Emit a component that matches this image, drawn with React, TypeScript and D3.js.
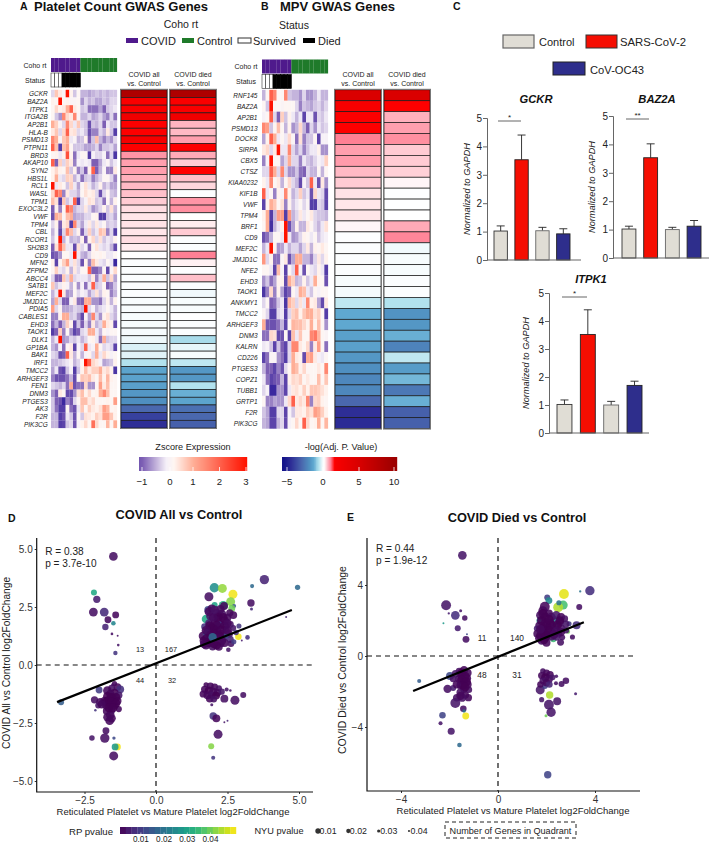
import { useEffect, useRef } from 'react';
import * as d3 from 'd3';

type Pt = [number, number, number, number]; // x, y, RP pvalue, NYU pvalue

const plateletGenes = ['GCKR','BAZ2A','ITPK1','ITGA2B','AP2B1','HLA-B','PSMD13','PTPN11','BRD3','AKAP10','SYN2','HBS1L','RCL1','WASL','TPM1','EXOC3L2','VWF','TPM4','CBL','RCOR1','SH2B3','CD9','MFN2','ZFPM2','ABCC4','SATB1','MEF2C','JMJD1C','PDIA5','CABLES1','EHD3','TAOK1','DLK1','GP1BA','BAK1','IRF1','TMCC2','ARHGEF3','FEN1','DNM3','PTGES3','AK3','F2R','PIK3CG'];
const mpvGenes = ['RNF145','BAZ2A','AP2B1','PSMD13','DOCK8','SIRPA','CBX5','CTSZ','KIAA0232','KIF1B','VWF','TPM4','BRF1','CD9','MEF2C','JMJD1C','NFE2','EHD3','TAOK1','ANKMY1','TMCC2','ARHGEF3','DNM3','KALRN','CD226','PTGES3','COPZ1','TUBB1','GRTP1','F2R','PIK3CG'];

const plateletExpr = [
  [-.3,.7,.3,0,3,.2,-.4,.1,-.5,-.5,-.6,-.5,-.4,-.5,-.4,-.5,-.4,-.4],
  [.2,.1,3,.1,.2,0,0,.1,-.7,-.3,-.5,-.4,-.6,-.6,-.4,-.5,-.3,-.3],
  [.1,.5,.2,.3,1,2,.3,.1,-.4,-.3,-.9,-.9,-.9,-.6,-1,-.4,-.3,-.2],
  [.1,-.4,-.7,1.5,.5,.3,1.5,0,-.5,-.5,-.3,-.6,-.5,-.3,-.6,-.8,-.3,-.9],
  [1,.6,0,-.3,1.5,.5,-.2,.7,-.3,-.4,-1.2,-.4,-.5,-.3,-1,-.2,-.4,-.4],
  [.3,.7,-.3,.5,2,.3,.4,-.3,-.2,-.4,-1.2,-.8,-.8,-.3,-.5,.3,-.4,-1.5],
  [1.5,1,0,.7,1,-.2,0,-.5,-.4,.2,-1,-.4,.8,-.5,-.8,-.5,-.7,-.3],
  [2,.8,-1.5,.8,1.2,.1,-.4,-.4,-.4,-.6,-.6,-.5,-.3,-.8,-.4,-.4,-.3,-.6],
  [.1,.2,-.2,.2,2.2,.2,-.9,-.2,.1,.1,-1.5,-.1,-.3,-.3,-.1,-.9,-.3,-1.6],
  [2,-1,.6,-.3,.6,.3,-.8,-.1,-.2,-.1,-.2,-1,-1,-.6,-.2,0,-.4,-.2],
  [.2,.5,.2,.1,.8,-.4,.2,-.8,-.4,-1,.2,2,-1,-.5,0,-.8,-.8,.3],
  [.2,1,-.2,-.3,.6,.5,-.5,-.2,-.9,-.4,-.3,-.8,-.5,-.3,.1,.1,-.3,-.8],
  [3,-.2,.3,.1,-.4,.6,-.2,-.6,0,.4,-.2,-.5,-.3,.2,-.5,-.3,-.6,-.6],
  [.5,2,1.5,-.8,.3,-.3,-.3,-.5,.1,.4,.2,.3,-.3,-1.2,-.3,.1,-.4,-.5],
  [.8,.4,-1.5,.7,-.4,-.2,2,-1.5,-.3,-.1,.4,.3,-.4,-.3,-.9,.1,-.5,.2],
  [-1,.2,-.8,.1,2,1.5,-.5,-.3,-.3,.3,-.3,-.7,-.5,-.3,.2,-.4,.4,-.5],
  [-1.2,1,.8,0,.8,1,-.6,-.5,-.5,-.3,-.3,.1,.2,-1.5,-1.5,-.4,-.3,-.6],
  [-.3,.2,-1,.3,.5,-1.5,1.5,-.3,-.6,-.2,.3,-.3,.3,-.2,.1,-.4,-.3,-.4],
  [-.5,0,-1.3,-.3,1.5,.8,-.3,.2,-1,-.3,.6,-.4,-.2,.8,.6,-.8,-.3,-1.5],
  [-.4,.1,3,-.5,-.1,-.5,-.4,-.5,.2,-1,.2,.5,-.3,.4,-.4,-.2,-.3,.2],
  [-1,.4,2,.8,-.2,-.2,-1.3,.4,-.3,-.1,-1,.1,.4,-.2,-.3,-.2,-.5,-1.3],
  [-1.2,-1,-.7,.1,.1,-.2,3,-.2,-.5,-.6,-.3,.2,.1,.2,.1,-.2,-.2,.1],
  [.2,-1.4,.1,.6,1.2,-.2,.4,-.3,-1.2,.2,-.8,.8,.3,-.2,-.3,.1,-.2,-1.8],
  [.1,.6,-.2,-.3,.2,-.5,.3,-.3,.1,.1,2,-1,-1,-.8,.1,-1.3,0,.5],
  [-.3,-1,-1,.7,-.3,1,-.3,-.2,-.2,-.2,-.4,.3,-.8,-.3,1,-.4,.5,-.6],
  [.7,-.4,-.2,.2,-.1,-.5,.1,-.7,-.1,-.9,-.2,2,-.4,-.3,.1,-1,-.8,-.4],
  [-.5,-.2,3,.3,-.7,-.6,.1,-.3,-.1,-.2,-.6,-.3,.4,-.4,.2,.1,-.8,-.5],
  [-.6,1,-.3,-1,-1,-.1,.3,-.9,-1,1,1,-.7,-.7,-.9,-.3,.2,-.5,.2],
  [1.2,-.3,.1,-.6,-.6,-.5,-.3,-.4,-.5,3,-.3,-.1,-.5,-.3,-.2,.1,-.2,-.5],
  [-.8,-.8,.2,1,1,-.4,-.3,-.7,-1.3,0,-.6,1.5,-.3,-.7,.2,.4,-.3,-.5],
  [-.9,-.5,-1,-.5,.6,.2,-1.3,-.4,-1,-.3,-.8,.3,-.5,-.3,1,.3,.2,-1.3],
  [-1.5,-1,.6,-.8,.1,-.7,-1.4,-1,-.3,-.2,1,1,-.2,-.5,.1,-.1,.1,.1],
  [-.5,-.2,3,-.7,-.6,-.3,-.4,-.2,-.5,-.3,.1,.2,-.2,-.9,1,-.4,-.3,-.3],
  [-.5,-.7,-.1,-.9,.1,.3,-1.4,-.1,-.3,2,-.2,-.1,1,.1,-.3,-.2,-.3,-1.4],
  [-.3,-.4,-1.2,-1,2,.3,-.5,.1,-.5,-.1,.2,-.3,1,-.2,.5,.2,-.1,.1],
  [-.5,-.5,-.4,-.3,-.2,0,-.5,-.3,.1,3,2,.5,.3,-.1,-.6,-.5,-.4,.2],
  [-.6,-.2,-1.2,-1.4,-.4,-.1,-1.5,-.4,.2,.8,.3,.6,.6,1,.3,.5,.2,-1.6],
  [-.8,-1.2,-1.2,-1.2,-.9,-.5,-1.3,.1,.7,.6,.8,.3,.1,.8,.2,.9,.2,.1],
  [-.3,-.4,-.5,-.3,-.9,1,-1.2,-.9,-.9,.5,-.7,-.7,.1,1.2,.3,.8,.1,.1],
  [-.7,-1,.3,.1,-1.3,-1.3,-.7,.4,.8,.2,.5,.1,.2,1,1.5,.8,.1,.1],
  [-.4,-1,-1.2,-1.8,-.8,-1.1,-.3,.1,.8,.8,.3,.5,.1,.1,.1,.2,.1,1.2],
  [-.4,-.9,-1.5,-1.5,.1,-.9,-1.2,-.2,.7,.1,.6,.3,.2,.4,1.2,.9,.1,.2],
  [-.5,-.5,-1.5,-1.2,-.2,-.4,-1.2,.1,-.4,.4,.3,.2,.6,.4,1.2,1.2,.7,.2],
  [-.5,-.5,-1.5,-1.4,-.4,-.3,-1.2,-.1,.2,.5,.1,1.8,.5,.1,.1,.9,.1,1],
];

const mpvExpr = [
  [-.5,.1,2,1.5,.1,.1,1.5,-.4,-.5,-.5,-.7,-.3,-.7,-.7,-.5,-.2,-.5,-.5],
  [.1,-.4,3,.1,.1,0,.1,.1,.1,-.3,-.8,-.4,-.5,-.6,-.4,-.3,-.5,-.3],
  [-.1,.1,2,-.3,-1,.6,-.4,.2,-.2,-.5,-.2,-1.4,-.2,-.2,-1.2,-.3,-.4,-.2],
  [1.5,1.2,-.4,.1,.8,.1,-.5,.2,-.7,-.5,.5,-.5,-1,-.3,-.7,-.2,-.4,-.3],
  [-.6,.2,2,1,-.2,.1,-.2,.5,0,-.9,.4,-.8,-.4,-.4,.1,-1.4,-.1,-.1],
  [.3,.5,-.3,.3,3,-.2,-.2,1.5,-.3,-.6,-.3,-.8,-.4,-.2,-.2,.2,-.7,-.7],
  [-.8,-.1,3,.1,.1,-.6,-.3,1,-.3,-.3,-.8,-.2,-.4,-.5,-.3,-.1,-.2,.6],
  [-.3,-.3,2,1,-.3,1.5,-.3,-.7,-.7,-.4,-.9,-1,-.3,-.5,-.5,.1,-.5,.1],
  [.2,-.2,1.5,.1,.3,-.5,.1,.5,-.3,-.5,-1.3,-.1,-.4,2,-.2,-1.2,.3,-.7],
  [2,-.2,.1,-.8,.2,-.1,1.5,.2,-.5,-.3,.6,-.4,-.2,-1.2,.5,-.2,-.3,-1.3],
  [-1.4,.2,1,.7,.1,.4,-.8,.2,-.4,-.2,.1,-.3,0,-1.5,-1.5,-.3,-.4,-1.4],
  [.2,1,-1.5,-.5,1.2,1.2,-1.5,1.3,-.5,-.3,.3,-.2,.1,.3,-.3,-.4,-.4,-.5],
  [.1,1,-1.7,-.5,-.2,.2,3,-1.2,-.6,.2,-.5,-.5,.3,.1,-.3,-.5,-.2,.4],
  [-1.2,-.9,-.5,.1,.1,-.2,3,-.2,-.7,-.6,-.3,.2,.1,-.2,.1,-.4,-.2,-.1],
  [-.5,-.2,3,.2,-.7,-.6,-.2,-.5,-.3,-.3,-.6,-.3,.3,-.5,.2,.1,.3,.1],
  [1.3,-.3,.2,-.9,-.9,0,.3,-1.2,-.6,1,1,-.5,-.5,-.8,-.3,.3,-.3,.2],
  [.1,.1,-.2,-1.4,.8,-.1,-1.4,.1,-.3,2,-.1,-1.2,.1,-.2,-.3,.2,-.2,-1.5],
  [-.7,-.4,-.9,-.6,.2,.2,-1.3,1,.6,-.5,-.4,.2,-.4,-.2,1,.2,.1,-1.2],
  [-1.6,-.8,.5,-.8,.2,-.6,-1.4,-1,.1,-.2,1,.8,-.2,-.4,.1,-.1,.1,.1],
  [-.3,.1,-1,-.9,-.4,-.2,-1.6,.9,.6,-.3,.4,-.2,1.5,.2,.3,-.6,-1.3,.3],
  [0,-.3,-1.5,-1.5,-.3,-.2,-1.5,-.3,.6,.8,.2,.7,1,1,.4,.6,.1,-1.5],
  [1,-1.1,-1.2,-1.2,-.9,-.5,-1.4,.1,.9,.8,.8,.5,.2,1,.2,.8,.1,-.7],
  [-.9,-.9,.5,.4,-1.3,-1.2,.1,-1.4,.8,-.2,.7,.1,.1,1.5,1.7,.9,.1,0],
  [-.2,-.1,-.4,-1.4,-.4,-1,-1.4,-.3,1.5,1.5,.3,.1,.5,-.8,.3,1.2,.1,-.9],
  [-1.4,-.9,0,0,-.7,-.9,-1.5,-.3,1,.3,.2,-1.3,1,1.2,.3,-.1,-.2,.1],
  [-.5,-1,-1,-1.4,-.8,-1.2,-.3,.1,1,.8,.2,.5,.1,.1,.1,.3,.1,1.5],
  [-.2,-.9,-1.4,-1.2,-1,-.5,-1.4,.2,.5,.4,.6,.1,.3,.1,.1,.8,.1,.7],
  [-.3,-.1,-1.8,-1.8,-.7,-.7,-1.4,-.2,.3,.4,.2,.6,.2,.7,.7,.6,.4,.2],
  [.1,-.8,-.8,-.6,-.7,-.7,-.2,.5,2,.3,.5,.3,1.5,-.8,.5,.6,.2,.1],
  [-.4,-.6,-1.5,-1.5,-.3,-.3,-1.4,-.1,-.4,.3,.3,.2,.6,.4,1.2,1,.6,.2],
  [-.5,-.6,-1.4,-1.4,-.5,-.3,-1.3,-.1,.1,.5,.1,2,.5,.1,.2,1,.1,.9],
];

const plateletAll = [8.5,1.5,1.5,2.5,1.2,1.2,2,1.2,.55,.5,.5,.42,.38,.35,.3,.22,.18,.2,.18,.22,.15,.05,0,0,0,0,0,-.03,-.03,-.04,-.05,-.06,-.15,-.3,-.25,-.6,-1.5,-1.55,-1.6,-1.8,-2,-3,-4,-4.5];
const plateletDied = [8.5,1.5,1.5,2.5,.4,.38,.5,1.3,.45,.3,1,.35,.25,0,.55,.58,.05,.15,.3,0,0,.65,.12,.03,.35,0,-.12,-.04,-.03,.05,0,0,-.7,-.2,-.05,-.5,-1.8,-1.8,-.6,-1.3,-1.5,-2.8,-3,-3.2];
const mpvAll = [4.8,1.8,1.3,1.2,.65,.5,.52,.38,.3,.2,.18,.18,.1,.03,0,0,0,-.05,-.08,-.5,-1.4,-1.4,-1.6,-1.6,-1.8,-2,-2.2,-2.2,-3,-4.5,-4.6];
const mpvDied = [4.8,1.2,.42,.5,.58,.3,.3,.28,.1,.03,.04,.05,.45,.62,-.12,-.04,-.04,0,0,-.6,-1.9,-1.8,-1.3,-2.3,-.5,-1.7,-1.2,-2.6,-1.3,-3.2,-3.2];

const barGroups = ['Control', 'SARS-CoV-2', 'Control2', 'CoV-OC43'];
const gckrMeans = [1.02, 3.53, 1.03, .92];
const gckrTops = [1.2, 4.4, 1.15, 1.1];
const baz2aMeans = [1.02, 3.53, 1, 1.12];
const baz2aTops = [1.12, 4.02, 1.08, 1.32];
const itpk1Means = [1.02, 3.52, 1, 1.7];
const itpk1Tops = [1.18, 4.4, 1.13, 1.85];

const covidAllPoints: Pt[] = [
  // upper left
  [-1.49,4.68,.003,.01],[-2.17,3.13,.031,.025],[-2.07,2.83,.005,.018],[-2.19,2.28,.003,.009],[-1.81,2.28,.007,.009],[-1.41,2.16,.002,.02],[-1.68,1.95,.002,.02],[-1.49,1.8,.024,.033],[-1.77,1.64,.006,.023],[-1.54,1.34,.003,.044],[-1.34,1.26,.003,.048],[-1.32,.86,.004,.044],[-1.42,.52,.009,.034],
  // upper right, loose points
  [3.79,3.68,.006,.006],[4.95,3.35,.018,.029],[3.36,3.4,.018,.036],[2.04,3.33,.026,.006],[2.32,3.3,.043,.008],[2.69,3.05,.05,.008],[1.85,2.94,.003,.008],[3.32,2.67,.003,.017],[3.34,2.41,.007,.042],[4.55,2.07,.006,.048],[2.61,2.73,.042,.008],[2.35,2.57,.032,.008],[2.05,2.59,.03,.025],[2.73,2.54,.014,.036],[2.65,2.44,.04,.02],[1.83,2.37,.012,.013],[2.88,1.22,.05,.022],[3.2,1.19,.008,.033],[3,1.06,.005,.048],[2.9,1.68,.009,.03],[2.53,.66,.004,.033],[1.75,1.98,.031,.01],
  // upper right, cluster
  [2.38,2.54,.002,.014],[1.95,2.44,.002,.014],[2.7,2.15,.002,.014],[2.1,2.25,.002,.012],[2.3,2.2,.003,.009],[2.5,2.05,.002,.015],[1.9,2.1,.004,.012],[2.15,2,.001,.012],[2.4,1.9,.002,.01],[1.85,1.8,.005,.016],[2.05,1.8,.002,.01],[2.25,1.75,.001,.012],[2.6,1.75,.003,.02],[2.7,1.6,.004,.025],[1.7,1.65,.008,.02],[1.95,1.6,.001,.01],[2.15,1.55,.003,.012],[2.45,1.55,.002,.018],[1.8,1.45,.003,.014],[2.05,1.4,.001,.01],[2.3,1.35,.002,.012],[2.55,1.35,.003,.014],[2.8,1.4,.008,.028],[1.65,1.25,.002,.008],[1.85,1.2,.001,.006],[2.1,1.2,.002,.01],[2.35,1.15,.004,.012],[2.6,1.1,.006,.02],[1.68,1.05,.001,.008],[1.9,1,.002,.008],[2.15,1,.003,.012],[2.4,.95,.002,.014],[2.62,.92,.003,.022],[1.75,.85,.002,.01],[1.98,.8,.003,.012],[2.2,.78,.002,.016],[1.8,1.35,.014,.01],[2,1.05,.016,.014],[2.2,1.7,.008,.01],[1.95,.92,.006,.02],[2.45,1.25,.012,.03],[2.3,.88,.002,.03],[2.72,1,.01,.03],
  [1.78,1.15,.001,.007],[1.92,1.3,.001,.006],[2.02,1.55,.001,.007],[2.12,1.72,.001,.008],[1.88,1.7,.001,.009],[2.28,1.5,.001,.007],[2.4,1.7,.001,.01],[2.22,1.25,.001,.008],[2.02,.92,.001,.008],[1.82,.95,.001,.009],[2.3,1.05,.002,.01],[2.5,1.5,.002,.012],[1.75,1.5,.002,.01],[2.18,2.1,.001,.008],[2.35,2.05,.001,.009],[2,2.05,.002,.01],[1.85,2.3,.002,.01],[2.25,2.4,.002,.011],[2.05,2.38,.003,.012],[1.98,1.2,.018,.012],[2.12,.85,.001,.012],[1.68,.9,.002,.012],[2.5,1.8,.002,.012],[2.58,2.25,.002,.018],
  // lower left
  [-3.32,-1.61,.016,.025],[-1.99,-1.08,.01,.02],[-1.52,-.85,.004,.042],[-1.45,-.8,.002,.03],[-1.35,-.95,.002,.015],[-1.25,-1.05,.008,.015],[-1.55,-1,.003,.02],[-1.7,-1.1,.002,.01],[-1.45,-1.2,.001,.012],[-1.6,-1.25,.002,.012],[-1.3,-1.3,.004,.018],[-2.15,-1.5,.003,.018],[-1.95,-1.6,.002,.012],[-1.8,-1.55,.002,.012],[-1.65,-1.5,.001,.012],[-1.5,-1.55,.002,.01],[-1.35,-1.55,.002,.012],[-2.02,-1.75,.004,.025],[-1.75,-1.75,.002,.016],[-1.6,-1.7,.002,.012],[-1.45,-1.75,.001,.012],[-2.12,-1.95,.009,.045],[-1.3,-1.9,.002,.024],[-1.55,-1.95,.004,.018],[-1.72,-1.98,.002,.014],[-1.6,-2.15,.002,.01],[-1.62,-2.4,.002,.01],[-1.75,-2.83,.003,.02],[-2.24,-3.15,.004,.028],[-1.79,-3.15,.003,.006],[-1.47,-3.15,.012,.04],[-1.35,-3.53,.05,.02],[-1.43,-3.53,.028,.02],[-1.48,-3.92,.003,.008],
  [-1.7,-1.35,.001,.01],[-1.55,-1.4,.001,.008],[-1.4,-1.4,.001,.009],[-1.75,-1.6,.001,.009],[-1.55,-1.6,.001,.008],[-1.4,-1.65,.001,.009],[-1.9,-1.7,.002,.012],[-1.65,-1.85,.001,.01],[-1.5,-1.85,.001,.01],[-1.7,-2.25,.002,.012],[-1.55,-2.3,.002,.012],
  // lower right
  [3.05,-1.29,.003,.025],[2.76,-1.52,.003,.008],[2.39,-1.45,.003,.014],[2.47,-1.06,.004,.036],[2.6,-1.1,.004,.045],[1.95,-1.71,.004,.042],[2,-2.2,.009,.017],[2.11,-2.3,.002,.014],[2.39,-2.47,.004,.048],[2.5,-2.4,.006,.048],[2.17,-2.99,.003,.008],[1.93,-3.5,.042,.025],[2,-4,.009,.036],
  [1.75,-.85,.002,.03],[1.9,-.9,.002,.02],[2.05,-.95,.002,.02],[2.2,-1,.003,.025],[1.7,-1.05,.002,.018],[1.85,-1.1,.001,.012],[2,-1.15,.002,.014],[2.15,-1.2,.002,.016],[2.3,-1.15,.004,.024],[1.65,-1.25,.002,.018],[1.8,-1.3,.002,.014],[1.95,-1.3,.003,.018],[2.1,-1.32,.001,.014],[1.88,-1.45,.002,.016],[2.02,-1.48,.003,.022],
];

const covidDiedPoints: Pt[] = [
  // upper left
  [-1.47,5.67,.004,.01],[-2.14,2.86,.004,.003],[-1.76,2.29,.008,.01],[-1.54,2.55,.004,.042],[-2.03,2.4,.005,.046],[-1.37,2.14,.003,.028],[-2.25,1.84,.028,.048],[-1.66,1.56,.005,.025],[-1.32,.94,.003,.02],[-1.28,1.22,.012,.048],
  // upper right, loose
  [3.79,3.68,.008,.006],[3.39,3.64,.02,.046],[2.72,3.49,.049,.003],[2.03,3.3,.01,.025],[2.1,3.12,.025,.02],[3.35,2.76,.003,.025],[2.69,2.87,.036,.008],[2.48,2.74,.045,.003],[2.51,3,.02,.03],[1.93,2.78,.002,.003],[1.77,1.99,.025,.008],[2.37,1.99,.022,.008],[3.24,1.73,.008,.014],[2.93,1.82,.01,.03],[2.89,1.37,.04,.036],[3.07,1.07,.003,.03],[2.28,.94,.035,.025],[2,.75,.002,.014],[2.58,.77,.003,.02],
  // upper right, cluster
  [1.85,2.55,.002,.008],[2.1,2.4,.002,.014],[1.75,2.3,.003,.01],[1.95,2.2,.001,.008],[2.2,2.2,.002,.01],[2.4,2.3,.004,.012],[2.6,2.2,.002,.014],[2.75,2.1,.003,.02],[1.7,1.7,.002,.014],[1.95,1.9,.002,.01],[2.15,1.85,.002,.012],[2.55,1.9,.003,.012],[2.8,1.8,.004,.018],[1.6,1.55,.005,.025],[1.85,1.55,.001,.006],[2.1,1.6,.002,.008],[2.35,1.6,.007,.01],[2.6,1.55,.003,.014],[2.8,1.45,.004,.022],[1.62,1.25,.002,.014],[1.85,1.25,.002,.01],[2.05,1.3,.016,.025],[2.25,1.3,.002,.012],[2.5,1.25,.005,.016],[1.7,1,.002,.012],[1.95,1.05,.001,.008],[2.2,1.1,.003,.012],[2.42,1.05,.004,.02],[1.8,.85,.003,.016],[2.65,1.05,.003,.026],
  [1.8,2,.001,.007],[2,1.7,.001,.006],[2.2,1.75,.001,.006],[2.45,1.75,.001,.008],[2.1,2.05,.001,.007],[1.9,1.4,.001,.007],[2.15,1.4,.001,.007],[2.4,1.4,.002,.009],[2,1.15,.001,.008],[1.75,1.15,.001,.009],[2.3,1.2,.002,.01],[1.75,1.5,.002,.01],[1.85,2.4,.001,.008],[1.9,.9,.001,.012],[2.55,2,.001,.01],[2.6,1.35,.002,.012],
  // lower left
  [-3.25,-1.41,.016,.036],[-1.98,-1.13,.012,.014],[-1.6,-.85,.003,.02],[-1.4,-.8,.002,.012],[-1.25,-.95,.002,.014],[-1.75,-1,.004,.016],[-1.5,-1.1,.001,.012],[-1.28,-1.25,.002,.012],[-1.6,-1.3,.002,.014],[-1.85,-1.3,.003,.022],[-1.4,-1.45,.001,.012],[-1.25,-1.6,.002,.014],[-1.55,-1.65,.002,.014],[-2.08,-1.85,.003,.012],[-1.85,-1.8,.005,.025],[-1.4,-1.85,.002,.014],[-1.2,-1.9,.003,.022],[-1.55,-2.05,.003,.014],[-1.35,-2.2,.002,.016],[-1.22,-2.35,.002,.018],[-1.48,-2.35,.003,.012],[-1.7,-2.35,.003,.016],[-1.76,-2.65,.004,.003],[-1.43,-2.97,.003,.022],[-1.4,-3.1,.02,.04],[-1.33,-3.38,.05,.02],[-2.29,-3.34,.011,.022],[-2.37,-3.79,.004,.036],[-1.93,-4.24,.004,.019],[-1.59,-5.01,.018,.033],
  [-1.5,-.95,.001,.01],[-1.35,-1.15,.001,.008],[-1.5,-1.35,.001,.009],[-1.3,-1.45,.001,.008],[-1.45,-1.65,.001,.009],[-1.35,-1.75,.001,.01],[-1.7,-1.6,.002,.012],[-1.55,-2.25,.002,.012],
  // lower right
  [3.2,-2.12,.005,.042],[2.41,-1.14,.004,.04],[2.8,-1.39,.003,.022],[2.62,-1.58,.003,.025],[2.39,-1.54,.003,.036],[2.13,-2.2,.045,.017],[1.8,-2.46,.004,.03],[1.74,-1.91,.004,.008],[1.93,-1.69,.01,.025],[2.44,-2.55,.004,.014],[2.1,-2.74,.004,.003],[2.19,-3.17,.004,.006],[1.98,-3.36,.04,.042],[2.05,-6.69,.011,.017],
  [1.85,-.85,.003,.028],[2,-.95,.002,.02],[2.15,-1.05,.002,.018],[1.8,-1.1,.002,.018],[1.95,-1.2,.001,.012],[2.1,-1.3,.002,.014],[2.25,-1.2,.004,.026],[1.85,-1.4,.003,.02],[2,-1.5,.002,.018],[1.75,-1.6,.002,.022],[2.12,-1.6,.006,.022],
];

const rpTicks = [.01, .02, .03, .04];
const nyuTicks = [.01, .02, .03, .04];

const font = '"Liberation Sans", Arial, sans-serif';

export default function App() {
  const ref = useRef<SVGSVGElement | null>(null);

  useEffect(() => {
    const svg = d3.select(ref.current);
    svg.selectAll('*').remove();

    const exprColor = d3.scaleLinear<string>()
      .domain([-2, -1, -.15, .15, 1, 3])
      .range(['#2a1a9a', '#7d5fb4', '#f5f0f8', '#fff6f2', '#ffae96', '#ff1200'])
      .clamp(true);
    const pColor = d3.scaleLinear<string>()
      .domain([-5.5, -4.5, -3, -2, -1.4, -.6, -.15, .05, .2, .4, .65, 1, 5, 10])
      .range(['#14148a', '#2e2e96', '#4a68ae', '#4f8fc0', '#5fa8d0', '#b2e2ee', '#eef8fb', '#ffffff', '#ffe2e6', '#ffb4c0', '#ff8094', '#ff0000', '#d80000', '#9c0000'])
      .clamp(true);

    const text = (x: number, y: number, s: string, size: number, opts: any = {}) => {
      const t = svg.append('text')
        .attr('x', x).attr('y', y).text(s)
        .attr('font-size', size)
        .attr('font-family', font)
        .attr('fill', opts.fill ?? '#222')
        .attr('dominant-baseline', 'central')
        .attr('text-anchor', opts.anchor ?? 'start');
      if (opts.bold) t.attr('font-weight', 700).attr('fill', '#111');
      if (opts.italic) t.attr('font-style', 'italic');
      if (opts.rotate) t.attr('transform', `rotate(-90 ${x} ${y})`);
      return t;
    };

    // panel letters and titles
    text(20, 6, 'A', 10.5, { bold: true });
    text(34, 6, 'Platelet Count GWAS Genes', 13, { bold: true });
    text(261, 6, 'B', 10.5, { bold: true });
    text(280, 6, 'MPV GWAS Genes', 13, { bold: true });
    text(453, 6, 'C', 10.5, { bold: true });
    text(8, 518, 'D', 10.5, { bold: true });
    text(347, 517, 'E', 10.5, { bold: true });

    // top legend
    text(181, 24, 'Coho rt', 10.5, { anchor: 'middle' });
    text(294, 25, 'Status', 10.5, { anchor: 'middle' });
    const swatch = (x: number, y: number, w: number, h: number, fill: string, stroke = 'none') =>
      svg.append('rect').attr('x', x).attr('y', y).attr('width', w).attr('height', h).attr('fill', fill).attr('stroke', stroke);
    swatch(126, 38, 12, 5, '#4f1a8c');
    text(141, 41, 'COVID', 11);
    swatch(182, 38, 12, 5, '#1f7a2a');
    text(197, 41, 'Control', 11);
    swatch(238, 38, 13, 5, '#fff', '#333');
    text(253, 41, 'Survived', 11);
    swatch(303, 38, 12, 5, '#000');
    text(318, 41, 'Died', 11);

    const drawHeat = (genes: string[], expr: number[][], all: number[], died: number[], o: any) => {
      const y = d3.scaleBand<string>().domain(genes).range([o.top, o.bottom]);
      const x = d3.scaleBand<number>().domain(d3.range(18)).range([o.hx, o.hx + 66]);

      genes.forEach((g, i) => {
        svg.append('g').selectAll('rect').data(expr[i]).join('rect')
          .attr('x', (_, c) => x(c) ?? 0)
          .attr('y', y(g) ?? 0)
          .attr('width', x.bandwidth() + .1)
          .attr('height', y.bandwidth() + .1)
          .attr('fill', (d) => exprColor(d));
        text(o.hx - o.labelGap, (y(g) ?? 0) + y.bandwidth() / 2, g, 6.5, { anchor: 'end', italic: true, fill: '#222' });
      });

      // cohort + status annotation bars
      svg.append('g').selectAll('rect').data(d3.range(18)).join('rect')
        .attr('x', (c) => x(c) ?? 0).attr('y', o.cohortY)
        .attr('width', x.bandwidth() + .1).attr('height', 14)
        .attr('fill', (c) => (c < 8 ? '#4f1a8c' : '#1f7a2a'));
      svg.append('g').selectAll('rect').data(d3.range(8)).join('rect')
        .attr('x', (c) => x(c) ?? 0).attr('y', o.cohortY + 15)
        .attr('width', x.bandwidth()).attr('height', 14)
        .attr('fill', (c) => (c < 3 ? '#fff' : '#000'))
        .attr('stroke', (c) => (c < 3 ? '#333' : '#000'))
        .attr('stroke-width', .6);
      text(o.hx - 16, o.cohortY + 7, 'Coho rt', 7, { anchor: 'middle' });
      text(o.hx - 16, o.cohortY + 22, 'Status', 7, { anchor: 'middle' });

      [[all, o.c1], [died, o.c2]].forEach(([vals, cx]: any) => {
        svg.append('g').selectAll('rect').data(vals as number[]).join('rect')
          .attr('x', cx).attr('y', (_, i) => y(genes[i]) ?? 0)
          .attr('width', 46).attr('height', y.bandwidth())
          .attr('fill', (d) => pColor(d))
          .attr('stroke', '#1a1a1a').attr('stroke-width', .7);
        svg.append('rect').attr('x', cx - .5).attr('y', o.top - .5).attr('width', 47).attr('height', o.bottom - o.top + 1)
          .attr('fill', 'none').attr('stroke', '#777').attr('stroke-width', 1);
      });
      text(o.c1 + 23, o.headY, 'COVID all', 7, { anchor: 'middle' });
      text(o.c1 + 23, o.headY + 9, 'vs. Control', 7, { anchor: 'middle' });
      text(o.c2 + 23, o.headY, 'COVID died', 7, { anchor: 'middle' });
      text(o.c2 + 23, o.headY + 9, 'vs. Control', 7, { anchor: 'middle' });
    };

    drawHeat(plateletGenes, plateletExpr, plateletAll, plateletDied, { top: 89.8, bottom: 428, hx: 51, c1: 121, c2: 170, cohortY: 58, headY: 74, labelGap: 3.2 });
    drawHeat(mpvGenes, mpvExpr, mpvAll, mpvDied, { top: 89.8, bottom: 428.6, hx: 262, c1: 335, c2: 384, cohortY: 59.5, headY: 74.5, labelGap: 4.5 });

    // gradient legends under the heatmaps
    const gradientBar = (x0: number, x1: number, ticks: number[], tickScale: any, color: any, title: string, titleX: number, size: number) => {
      const steps = d3.range(x0, x1, 1);
      svg.append('g').selectAll('rect').data(steps).join('rect')
        .attr('x', (d) => d).attr('y', 457).attr('width', 1.2).attr('height', 14)
        .attr('fill', (d) => color(tickScale.invert(d)));
      ticks.forEach((t) => {
        svg.append('line').attr('x1', tickScale(t)).attr('x2', tickScale(t)).attr('y1', 467).attr('y2', 471).attr('stroke', '#fff').attr('stroke-width', .8);
        text(tickScale(t), 481, t < 0 ? `\u2212${-t}` : `${t}`, 9.6, { anchor: 'middle' });
      });
      text(titleX, 447, title, size, { anchor: 'middle' });
    };
    gradientBar(139, 247, [-1, 0, 1, 2, 3],
      d3.scaleLinear().domain([-1, 0, 1, 3]).range([142, 170, 193, 246]),
      exprColor, 'Zscore Expression', 193, 9.1);
    gradientBar(282, 397, [-5, 0, 5, 10],
      d3.scaleLinear().domain([-5, 0, 5, 10]).range([287, 323, 359, 394]),
      (v: number) => {
        // legend squeezes the pale band around zero, cells use the same ramp
        return pColor(v < -1 ? v : v < 0 ? v * .9 : v < 1.6 ? v * .65 : v);
      }, '-log(Adj. P. Value)', 341, 9.2);

    // panel C legend
    swatch(503, 35, 31, 13, '#e0ddd5', '#666').attr('stroke-width', 1.2);
    text(539, 42, 'Control', 11);
    swatch(586, 35, 31, 13, '#f50e02', '#333').attr('stroke-width', 1);
    text(620, 42, 'SARS-CoV-2', 11.3);
    swatch(553, 62, 32, 13, '#2e2e8c', '#222').attr('stroke-width', 1);
    text(590, 70, 'CoV-OC43', 11.2);

    const barFill = ['#e0ddd5', '#f50e02', '#e0ddd5', '#2e2e8c'];
    const barStroke = ['#333', '#222', '#666', '#222'];
    const drawBars = (name: string, means: number[], tops: number[], o: any) => {
      const y = d3.scaleLinear().domain([0, 5]).range([o.y0, o.y5]);
      const x = d3.scaleBand<string>().domain(barGroups).range([o.a, o.b]).paddingInner(.36);
      const g = svg.append('g');
      means.forEach((m, i) => {
        const cx = (x(barGroups[i]) ?? 0) + x.bandwidth() / 2;
        g.append('line').attr('x1', cx).attr('x2', cx).attr('y1', y(m)).attr('y2', y(tops[i])).attr('stroke', '#222').attr('stroke-width', .9);
        g.append('line').attr('x1', cx - 4).attr('x2', cx + 4).attr('y1', y(tops[i])).attr('y2', y(tops[i])).attr('stroke', '#222').attr('stroke-width', .9);
      });
      g.selectAll('rect').data(means).join('rect')
        .attr('x', (_, i) => x(barGroups[i]) ?? 0)
        .attr('y', (d) => y(d))
        .attr('width', x.bandwidth())
        .attr('height', (d) => o.y0 - y(d))
        .attr('fill', (_, i) => barFill[i])
        .attr('stroke', (_, i) => barStroke[i])
        .attr('stroke-width', .9);
      const axis = svg.append('g').attr('transform', `translate(${o.ax},0)`)
        .call(d3.axisLeft(y).tickValues([0, 1, 2, 3, 4, 5]).tickSize(4).tickPadding(1).tickFormat(d3.format('d')));
      axis.selectAll('.domain').attr('stroke', '#666').attr('stroke-width', 1);
      axis.selectAll('line').attr('stroke', '#666');
      axis.selectAll('text').attr('font-size', 10).attr('font-family', font).attr('fill', '#222');
      svg.append('line').attr('x1', o.ax).attr('x2', o.xEnd).attr('y1', o.y0).attr('y2', o.y0).attr('stroke', '#666').attr('stroke-width', 1);
      text(o.tx, o.ty, name, 11.2, { anchor: 'middle', bold: true, italic: true });
      text(o.lx, (o.y0 + o.y5) / 2, 'Normalized to GAPDH', 9.2, { anchor: 'middle', italic: true, rotate: true });
      svg.append('line').attr('x1', o.bx0).attr('x2', o.bx1).attr('y1', o.by).attr('y2', o.by).attr('stroke', '#555').attr('stroke-width', .9);
      text((o.bx0 + o.bx1) / 2, o.by - 3.5, o.star, 8, { anchor: 'middle' });
    };
    drawBars('GCKR', gckrMeans, gckrTops, { y0: 260, y5: 118, a: 494, b: 570, ax: 487, xEnd: 581, tx: 536, ty: 99, lx: 467, bx0: 498, bx1: 521, by: 121, star: '*' });
    drawBars('BAZ2A', baz2aMeans, baz2aTops, { y0: 258, y5: 116, a: 622, b: 701, ax: 613, xEnd: 709, tx: 657, ty: 99, lx: 592, bx0: 626, bx1: 649, by: 119, star: '**' });
    drawBars('ITPK1', itpk1Means, itpk1Tops, { y0: 433, y5: 293, a: 557, b: 642, ax: 549, xEnd: 649, tx: 591, ty: 279, lx: 526, bx0: 562, bx1: 587, by: 297, star: '*' });

    // scatter panels
    const rpColor = (p: number) => d3.interpolateViridis((p - .001) / .05);
    const nyuSize = d3.scaleLinear().domain([0, .05]).range([5.2, .8]).clamp(true);

    const drawScatter = (pts: Pt[], o: any) => {
      const x = d3.scaleLinear().domain(o.xd).range(o.xr);
      const y = d3.scaleLinear().domain(o.yd).range(o.yr);
      const [xL, xR] = [o.left, o.right];
      const [yT, yB] = [o.top, o.bottom];

      svg.append('g').selectAll('circle').data(pts).join('circle')
        .attr('cx', (d) => x(d[0]))
        .attr('cy', (d) => y(d[1]))
        .attr('r', (d) => nyuSize(d[3]))
        .attr('fill', (d) => rpColor(d[2]))
        .attr('fill-opacity', .88);

      svg.append('line').attr('x1', xL).attr('x2', o.hEnd).attr('y1', y(0)).attr('y2', y(0))
        .attr('stroke', '#111').attr('stroke-width', 1.2).attr('stroke-dasharray', '5 4');
      svg.append('line').attr('x1', x(0)).attr('x2', x(0)).attr('y1', yT).attr('y2', yB)
        .attr('stroke', '#111').attr('stroke-width', 1.2).attr('stroke-dasharray', '5 4');
      svg.append('line').attr('x1', x(o.fit[0])).attr('y1', y(o.fit[1])).attr('x2', x(o.fit[2])).attr('y2', y(o.fit[3]))
        .attr('stroke', '#000').attr('stroke-width', 2.2);

      const xa = svg.append('g').attr('transform', `translate(0,${yB})`)
        .call(d3.axisBottom(x).tickValues(o.xt).tickSize(2).tickPadding(3).tickFormat((d: any) => fmt(d, o.dec)));
      xa.select('.domain').remove();
      const ya = svg.append('g').attr('transform', `translate(${xL},0)`)
        .call(d3.axisLeft(y).tickValues(o.yt).tickSize(2).tickPadding(2).tickFormat((d: any) => fmt(d, o.dec)));
      ya.select('.domain').remove();
      [xa, ya].forEach((a) => {
        a.selectAll('text').attr('font-size', 10).attr('font-family', font).attr('fill', '#333');
        a.selectAll('line').attr('stroke', '#333');
      });
      svg.append('path').attr('d', `M${xL},${yT}V${yB}H${xR}`).attr('fill', 'none').attr('stroke', '#111').attr('stroke-width', 1.2);

      text(o.titleX, o.titleY, o.title, 12.8, { anchor: 'middle', bold: true });
      text(xL + o.noteDx, o.noteY, o.r, 10.1);
      text(xL + o.noteDx, o.noteY + 12, o.p, 10.1);
      o.counts.forEach(([cx, cy, s]: any) => text(cx, cy, s, o.countSize, { anchor: 'middle' }));
      text(o.ylX, o.ylY, o.yLabel, o.ylSize, { anchor: 'middle', rotate: true });
      text(o.xlX, o.xlY, 'Reticulated Platelet vs Mature Platelet log2FoldChange', 9.5, { anchor: 'middle' });
    };
    const fmt = (d: number, dec: number) => {
      const s = d3.format(`.${dec}f`)(Math.abs(d));
      return d < 0 ? `\u2212${s}` : s;
    };

    drawScatter(covidAllPoints, {
      xd: [0, 5], xr: [156, 299], yd: [0, 5], yr: [665, 549],
      left: 36.7, right: 313, top: 538, bottom: 792, hEnd: 313,
      xt: [-2.5, 0, 2.5, 5], yt: [-5, -2.5, 0, 2.5, 5], dec: 1,
      fit: [-3.46, -1.6, 4.75, 2.37],
      title: 'COVID All vs Control', titleX: 179, titleY: 514,
      r: 'R = 0.38', p: 'p = 3.7e-10', noteDx: 8.5, noteY: 551,
      counts: [[140, 649, '13'], [171, 649, '167'], [140, 680, '44'], [172, 680, '32']], countSize: 7.4,
      yLabel: 'COVID All vs Control log2FoldChange', ylX: 6.5, ylY: 663, ylSize: 10.2,
      xlX: 173, xlY: 811,
    });
    drawScatter(covidDiedPoints, {
      xd: [0, 4], xr: [498, 595], yd: [0, 4], yr: [656, 585],
      left: 367, right: 640, top: 538, bottom: 791, hEnd: 635,
      xt: [-4, 0, 4], yt: [-4, 0, 4], dec: 0,
      fit: [-3.5, -1.97, 3.54, 1.9],
      title: 'COVID Died vs Control', titleX: 517, titleY: 517,
      r: 'R = 0.44', p: 'p = 1.9e-12', noteDx: 9, noteY: 548,
      counts: [[482, 638, '11'], [517, 638, '140'], [482, 675, '48'], [517, 675, '31']], countSize: 8.4,
      yLabel: 'COVID Died vs Control log2FoldChange', ylX: 342, ylY: 660, ylSize: 10.5,
      xlX: 513, xlY: 810,
    });

    // bottom legend
    text(91, 831, 'RP pvalue', 9.6, { anchor: 'middle' });
    const rpBar = d3.scaleLinear().domain([.001, .051]).range([120, 236]);
    svg.append('g').selectAll('rect').data(d3.range(.001, .051, .0025)).join('rect')
      .attr('x', (d) => rpBar(d)).attr('y', 827).attr('height', 7)
      .attr('width', rpBar(.0035) - rpBar(.001) + .2)
      .attr('fill', (d) => rpColor(d + .00125));
    rpTicks.forEach((t) => {
      svg.append('line').attr('x1', rpBar(t)).attr('x2', rpBar(t)).attr('y1', 832.5).attr('y2', 834).attr('stroke', '#fff').attr('stroke-width', .6);
      text(rpBar(t), 839, `${t}`, 8.2, { anchor: 'middle' });
    });
    text(279, 831, 'NYU pvalue', 9.2, { anchor: 'middle' });
    const nyuX = d3.scalePoint<number>().domain(nyuTicks).range([318, 409]);
    nyuTicks.forEach((t) => {
      const cx = nyuX(t) ?? 0;
      svg.append('circle').attr('cx', cx).attr('cy', 831).attr('r', nyuSize(t) * .62).attr('fill', '#333');
      text(cx + 1.5, 831, `${t}`, 8.8);
    });
    svg.append('rect').attr('x', 445).attr('y', 822).attr('width', 131).attr('height', 16)
      .attr('fill', 'none').attr('stroke', '#222').attr('stroke-width', 1).attr('stroke-dasharray', '4 3');
    text(510.5, 831, 'Number of Genes in Quadrant', 9.1, { anchor: 'middle' });
  }, []);

  return <svg ref={ref} width={709} height={844} style={{ position: 'absolute', left: 0, top: 0, background: '#fff' }} />;
}
